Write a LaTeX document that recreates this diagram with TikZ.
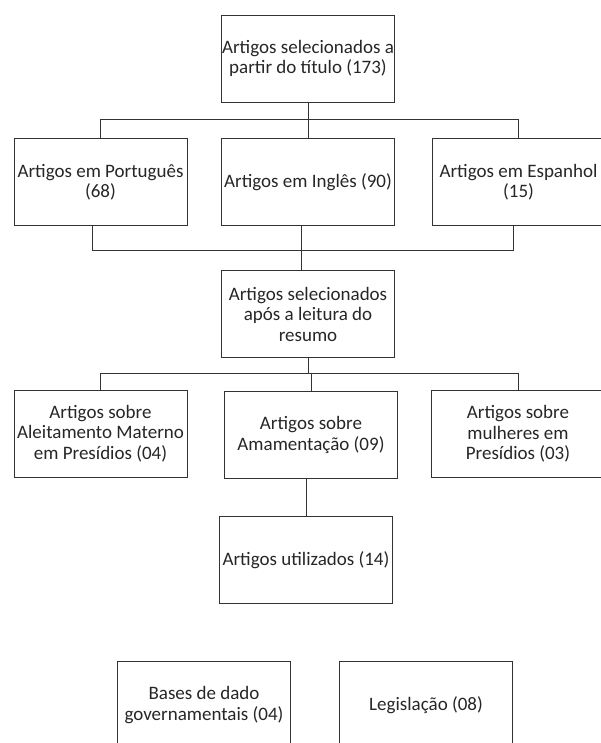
\documentclass[tikz,border=0pt]{standalone}
\usepackage{fontspec}
\setmainfont{Carlito}

\begin{document}
\begin{tikzpicture}[x=1pt, y=-1pt,
	caixa/.style={draw=black!80, line width=0.9pt, text=black!85, align=center,
		minimum width=173pt, minimum height=87pt, inner sep=1pt,
		font=\fontsize{19}{20.5}\selectfont},
	liga/.style={draw=black!80, line width=0.9pt}]
	\useasboundingbox (0,0) rectangle (601,743);

	\node[caixa] (titulo) at (308,58.5) {Artigos selecionados a\\partir do título (173)};

	\coordinate (barra1) at (0,119);
	\node[caixa] (port) at (100.5,182) {Artigos em Português\\(68)};
	\node[caixa] (ingl) at (308,182) {Artigos em Inglês (90)};
	\node[caixa] (esp) at (518.5,182) {Artigos em Espanhol\\(15)};

	\draw[liga] (titulo) -- (ingl);
	\draw[liga] (port.north) -- (port.north |- barra1) -| (esp.north);

	\coordinate (barra2) at (0,250);
	\node[caixa] (resumo) at (308,314) {Artigos selecionados\\após a leitura do\\resumo};

	\draw[liga] ([xshift=-8pt]port.south) -- ([xshift=-8pt]port.south |- barra2)
		-| ([xshift=-5pt]esp.south);
	\draw[liga] ([xshift=-7pt]ingl.south) -- ([xshift=-7pt]resumo.north);

	\coordinate (barra3) at (0,373);
	\node[caixa] (aleit) at (100.5,433.5) {Artigos sobre\\Aleitamento Materno\\em Presídios (04)};
	\node[caixa] (amam) at (311,435) {Artigos sobre\\Amamentação (09)};
	\node[caixa] (mulh) at (518,434) {Artigos sobre\\mulheres em\\Presídios (03)};

	\draw[liga] (resumo.south) -- (resumo.south |- barra3);
	\draw[liga] (aleit.north) -- (aleit.north |- barra3) -| (mulh.north);
	\draw[liga] (amam.north) -- (amam.north |- barra3);

	\node[caixa] (utiliz) at (306,560) {Artigos utilizados (14)};
	\draw[liga] ([xshift=-5pt]amam.south) -- ([xshift=-5pt]amam.south |- utiliz.north);

	\node[caixa] (bases) at (204,705) {Bases de dado\\governamentais (04)};
	\node[caixa] (legis) at (426,705) {Legislação (08)};
\end{tikzpicture}
\end{document}
